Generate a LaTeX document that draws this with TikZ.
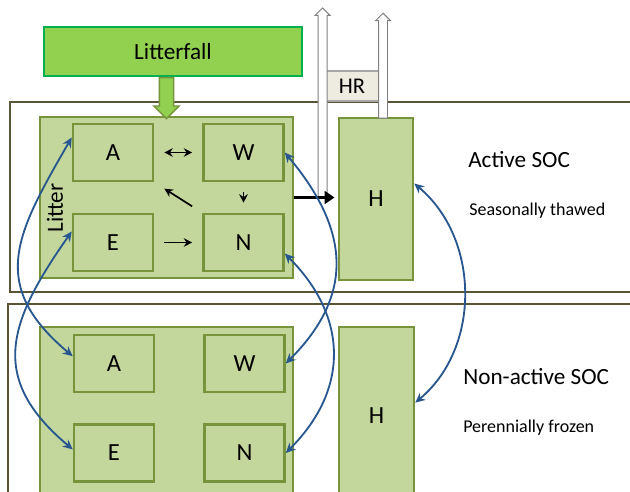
\documentclass[tikz,border=0pt]{standalone}
\usepackage{fontspec}
\setmainfont{Carlito}
\usetikzlibrary{arrows.meta,shapes.arrows,calc}
\definecolor{poolfill}{HTML}{C3D69B}
\definecolor{poolline}{HTML}{77933C}
\definecolor{fallfill}{HTML}{92D050}
\definecolor{fallline}{HTML}{00B050}
\definecolor{frameline}{HTML}{5A5436}
\definecolor{mixblue}{HTML}{28578F}
\definecolor{hrfill}{HTML}{EEECE1}
\definecolor{hrline}{HTML}{A6A6A6}
\tikzset{
  pool/.style={draw=poolline, fill=poolfill, line width=1.8pt, inner sep=0pt},
  subpool/.style={pool, minimum width=2cm, minimum height=1.425cm, font=\fontsize{17.5}{20}\selectfont},
  layerlabel/.style={anchor=west, inner sep=0pt, font=\fontsize{16.5}{19}\selectfont},
  layernote/.style={anchor=west, inner sep=0pt, font=\fontsize{12.8}{15}\selectfont},
  flux/.style={line width=1.2pt, shorten >=0.25cm, shorten <=0.25cm},
  mixing/.style={draw=mixblue, line width=1.3pt, {Stealth[length=7pt,width=6.5pt]}-{Stealth[length=7pt,width=6.5pt]}},
  hrarrow/.style={single arrow, draw=gray, fill=white, line width=0.7pt, rotate=90, inner sep=0.1cm, single arrow head extend=0.075cm, anchor=tail}
}
\begin{document}
\begin{tikzpicture}[x=0.025cm, y=0.025cm, >={Stealth[length=6pt,width=6pt]}]
\useasboundingbox (0,0) rectangle (630,-492);
\clip (0,0) rectangle (630,-492);
\draw[frameline, line width=1.5pt] (640,-102) -- (10,-102) -- (10,-292) -- (640,-292);
\draw[frameline, line width=1.5pt] (640,-304) -- (8,-304) -- (8,-500);

\node[draw=fallline, fill=fallfill, line width=1.4pt, minimum width=6.45cm, minimum height=1.225cm, font=\fontsize{16.5}{19}\selectfont] (fall) at (173,-51.5) {Litterfall};

\node[pool, minimum width=6.325cm, minimum height=4.025cm] (topbox) at (166.5,-197.5) {};
\node[subpool] (tA) at (113,-152.5) {A};
\node[subpool] (tW) at (243.5,-152.5) {W};
\node[subpool] (tE) at (113,-242.5) {E};
\node[subpool] (tN) at (243.5,-242.5) {N};
\node[rotate=90, inner sep=0pt, font=\fontsize{16.5}{19}\selectfont] (litter) at (55,-208) {Litter};
\node[pool, minimum width=1.85cm, minimum height=4.05cm, font=\fontsize{17.5}{20}\selectfont] (tH) at (376,-199) {H};

\node[pool, minimum width=6.325cm, minimum height=4.45cm] (botbox) at (166.5,-416) {};
\node[subpool] (bA) at (114,-363.5) {A};
\node[subpool] (bW) at (244.5,-363.5) {W};
\node[subpool] (bE) at (114,-453) {E};
\node[subpool] (bN) at (244.5,-453) {N};
\node[pool, minimum width=1.875cm, minimum height=4.45cm, font=\fontsize{17.5}{20}\selectfont] (bH) at (376.5,-416) {H};

\node[single arrow, draw=poolline, fill=fallfill, line width=1pt, rotate=-90, minimum height=1.025cm, inner sep=0.16cm, single arrow head extend=0.14cm, anchor=tail] (fallarrow) at (fall.south -| topbox.north) {};

\node[draw=hrline, fill=hrfill, line width=1.2pt, minimum width=1.325cm, minimum height=0.75cm, font=\fontsize{16}{19}\selectfont] (hr) at (352,-86) {HR};
\coordinate (hrsplit) at ($(topbox.east)!0.65!(topbox.east -| tH.west)$);
\node[hrarrow, minimum height=4.725cm] (hrleft) at (hrsplit) {};
\node[hrarrow, minimum height=2.625cm] (hrright) at ([xshift=0.175cm, yshift=-0.05cm]tH.north) {};
\draw[line width=2.8pt, -{Triangle[length=7pt,width=9pt]}, shorten >=0.08cm] (topbox.east) -- (topbox.east -| tH.west);

\draw[flux, <->] (tA) -- (tW);
\draw[flux, ->] (tW) -- (tN);
\draw[flux, ->] (tE) -- (tN);
\draw[flux, ->, shorten >=0.3cm, shorten <=0.3cm] (tN.north west) -- (tA.south east);

\draw[mixing] (tA.160) to[out=240, in=140, looseness=1.3] (bA.170);
\draw[mixing] (tE.165) to[out=235, in=140, looseness=1.3] (bE.175);
\draw[mixing] (tW.east) to[out=-50, in=45, looseness=1.2] (bW.east);
\draw[mixing] (tN.-15) to[out=-45, in=45, looseness=1.15] (bN.east);
\draw[mixing] (tH.22) to[out=-40, in=40] (bH.19);

\node[layerlabel] (active) at (468,-160) {Active SOC};
\node[layernote] (thawed) at (469,-211) {Seasonally thawed};
\node[layerlabel] (nonactive) at (463,-377) {Non-active SOC};
\node[layernote] (frozen) at (463,-428) {Perennially frozen};
\end{tikzpicture}
\end{document}
